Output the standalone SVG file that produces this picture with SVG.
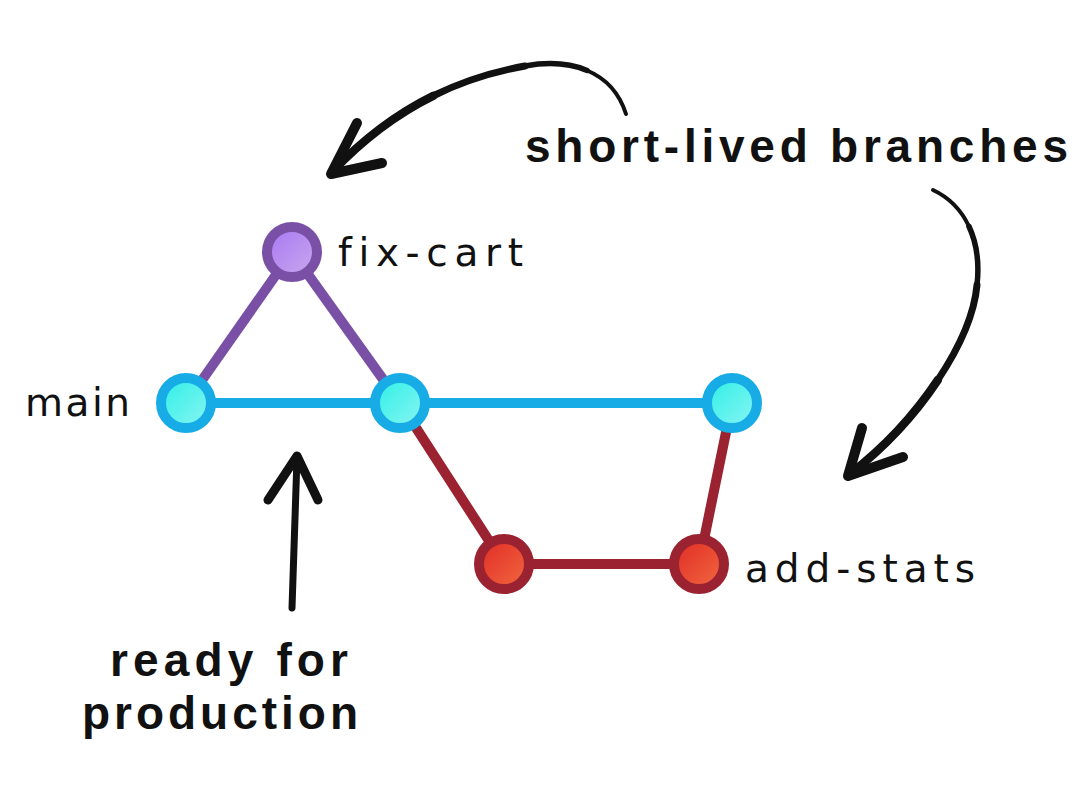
<svg xmlns="http://www.w3.org/2000/svg" width="1080" height="800" viewBox="0 0 1080 800">
  <style>
    .lbl { font-family: "DejaVu Sans", "Liberation Sans", sans-serif; font-size: 39px; fill: #111; font-variant-ligatures: none; }
    .big { font-family: "Liberation Sans", Arial, sans-serif; font-size: 46px; font-weight: bold; fill: #111; font-variant-ligatures: none; }
    .edge { fill: none; stroke-width: 10; stroke-linecap: round; }
    .blue { stroke: #17ACE6; }
    .purple { stroke: #7A4FA6; }
    .red { stroke: #9B2230; }
    .ink { fill: none; stroke: #111; stroke-linecap: round; stroke-linejoin: round; }
    .nb { stroke: #17ACE6; stroke-width: 10; fill: url(#gBlue); }
    .np { stroke: #7A4FA6; stroke-width: 10; fill: url(#gPurple); }
    .nr { stroke: #9B2230; stroke-width: 10; fill: url(#gRed); }
  </style>
  <defs>
    <linearGradient id="gBlue" x1="0" y1="0" x2="1" y2="1">
      <stop offset="0" stop-color="#2CEFE6"/>
      <stop offset="1" stop-color="#8CF5F3"/>
    </linearGradient>
    <linearGradient id="gPurple" x1="0" y1="0" x2="1" y2="1">
      <stop offset="0" stop-color="#A576F2"/>
      <stop offset="1" stop-color="#CBAAEE"/>
    </linearGradient>
    <linearGradient id="gRed" x1="0" y1="0" x2="1" y2="1">
      <stop offset="0" stop-color="#E02A25"/>
      <stop offset="1" stop-color="#F26A40"/>
    </linearGradient>
  </defs>
  <rect width="1080" height="800" fill="#FFFFFF"/>

  <g id="connectors">
    <line class="edge blue" x1="186" y1="403" x2="732" y2="403"/>
    <line class="edge purple" x1="186" y1="403" x2="292" y2="252"/>
    <line class="edge purple" x1="292" y1="252" x2="400" y2="403"/>
    <line class="edge red" x1="400" y1="403" x2="504" y2="564"/>
    <line class="edge red" x1="504" y1="564" x2="699" y2="564"/>
    <line class="edge red" x1="699" y1="564" x2="732" y2="403"/>
  </g>

  <g id="node-main-1"><circle class="nb" cx="186" cy="403" r="25"/></g>
  <g id="node-main-2"><circle class="nb" cx="400" cy="403" r="25"/></g>
  <g id="node-main-3"><circle class="nb" cx="732" cy="403" r="25"/></g>
  <g id="node-fix-cart"><circle class="np" cx="292" cy="252" r="25"/></g>
  <g id="node-add-stats-1"><circle class="nr" cx="504" cy="564" r="25"/></g>
  <g id="node-add-stats-2"><circle class="nr" cx="699" cy="564" r="25"/></g>

  <g id="labels">
    <text class="lbl" x="25" y="416" textLength="105" lengthAdjust="spacing">main</text>
    <text class="lbl" x="338" y="266" textLength="185" lengthAdjust="spacing">fix-cart</text>
    <text class="lbl" x="745" y="582" textLength="230" lengthAdjust="spacing">add-stats</text>
    <text class="big" x="525" y="162" textLength="543" lengthAdjust="spacing">short-lived branches</text>
    <text class="big" x="110" y="676" textLength="238" lengthAdjust="spacing">ready for</text>
    <text class="big" x="82" y="729" textLength="276" lengthAdjust="spacing">production</text>
  </g>

  <g id="annotation-arrows">
    <path class="ink" stroke-width="4" d="M626,114 C619,92 605,78 587.1,70.5"/>
    <path class="ink" stroke-width="5.5" d="M587.1,70.5 C569.25,63 547.5,62 525,66"/>
    <path class="ink" stroke-width="7" d="M525,66 C497.5,71 466.25,79.5 433.4,95.75"/>
    <path class="ink" stroke-width="8.5" d="M433.4,95.75 C400.5,112 366,136 332,172"/>
    <path class="ink" stroke-width="10" d="M357,123 L331,174 L382,163"/>

    <path class="ink" stroke-width="4" d="M933,190 C949,197.5 961.25,210 968.9,226.25"/>
    <path class="ink" stroke-width="5.5" d="M968.9,226.25 C976.5,242.5 979.5,262.5 977,285"/>
    <path class="ink" stroke-width="7" d="M977,285 C974.5,312.5 960.25,346.25 937.9,379.9"/>
    <path class="ink" stroke-width="8.5" d="M937.9,379.9 C915.5,413.5 885,447 850,474"/>
    <path class="ink" stroke-width="10" d="M862,428 L848,476 L903,457"/>

    <path class="ink" stroke-width="7" d="M292,608 L297,458"/>
    <path class="ink" stroke-width="9" d="M268,500 L297,456 L318,500"/>
  </g>
</svg>
